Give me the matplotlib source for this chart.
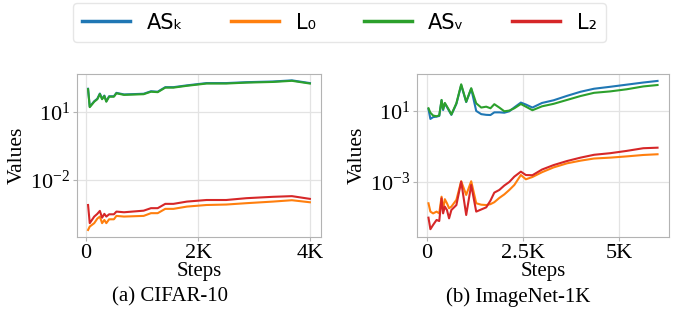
import numpy as np
import matplotlib
matplotlib.use('Agg')
import matplotlib.pyplot as plt
from matplotlib.lines import Line2D

# fontes: serifada nos eixos, sans na legenda
plt.rcParams['font.family'] = 'serif'
plt.rcParams['font.serif'] = ['Liberation Serif', 'DejaVu Serif']
plt.rcParams['mathtext.fontset'] = 'stix'

nomes = ['ASₖ', 'L₀', 'ASᵥ', 'L₂']
cores = ['#1f77b4', '#ff7f0e', '#2ca02c', '#d62728']

# CIFAR-10 (valores em log10)
passos_a = [40, 70, 150, 205, 250, 290, 330, 365, 415, 500, 545, 680, 1030,
            1160, 1280, 1415, 1560, 1800, 2150, 2500, 2860, 3330, 3670, 3990]
ask_a = [2.02, 1.23, 1.47, 1.58, 1.81, 1.58, 1.72, 1.47, 1.69, 1.69, 1.84, 1.77,
         1.80, 1.91, 1.89, 2.09, 2.09, 2.17, 2.27, 2.27, 2.31, 2.34, 2.39, 2.27]
l0_a = [-4.20, -4.05, -3.90, -3.70, -3.61, -3.90, -3.76, -3.90, -3.73, -3.73,
        -3.58, -3.61, -3.58, -3.46, -3.46, -3.27, -3.27, -3.17, -3.10, -3.08,
        -3.02, -2.95, -2.89, -2.98]
asv_a = [2.00, 1.21, 1.45, 1.56, 1.79, 1.56, 1.70, 1.45, 1.67, 1.67, 1.82, 1.75,
         1.78, 1.89, 1.87, 2.07, 2.07, 2.15, 2.25, 2.25, 2.29, 2.32, 2.37, 2.25]
l2_a = [-3.10, -3.90, -3.61, -3.49, -3.36, -3.66, -3.49, -3.61, -3.51, -3.51,
        -3.39, -3.42, -3.35, -3.24, -3.24, -3.05, -3.05, -2.95, -2.88, -2.88,
        -2.80, -2.74, -2.71, -2.83]

# ImageNet-1K (valores em log10)
passos_b = [50, 100, 170, 260, 330, 390, 430, 475, 530, 585, 645, 775, 900,
            1030, 1160, 1290, 1420, 1550, 1660, 1760, 1890, 2020, 2150, 2280,
            2450, 2580, 2750, 3000, 3300, 3650, 4000, 4350, 4770, 5200, 5630, 6000]
ask_b = [1.10, 0.55, 0.65, 0.68, 0.72, 1.60, 1.05, 1.42, 1.22, 1.00, 0.78, 1.40,
         2.45, 1.50, 2.25, 1.00, 0.82, 0.78, 0.77, 0.92, 0.92, 0.90, 0.98, 1.20,
         1.47, 1.36, 1.19, 1.45, 1.60, 1.85, 2.08, 2.25, 2.36, 2.48, 2.60, 2.69]
l0_b = [-4.20, -4.67, -4.77, -4.67, -4.77, -3.83, -4.58, -3.97, -4.20, -4.48,
        -4.39, -4.01, -2.96, -3.73, -2.96, -4.20, -4.28, -4.30, -4.25, -4.14,
        -3.90, -3.70, -3.45, -3.17, -2.61, -2.85, -2.72, -2.45, -2.18, -1.95,
        -1.80, -1.68, -1.63, -1.56, -1.48, -1.44]
asv_b = [1.15, 0.90, 0.74, 0.70, 0.75, 1.62, 1.10, 1.45, 1.25, 1.05, 0.80, 1.43,
         2.50, 1.52, 2.28, 1.43, 1.19, 1.24, 1.15, 1.38, 1.19, 0.98, 1.02, 1.15,
         1.39, 1.24, 1.04, 1.26, 1.40, 1.62, 1.84, 2.02, 2.10, 2.22, 2.38, 2.46]
l2_b = [-5.01, -5.66, -5.42, -5.14, -5.20, -3.92, -4.77, -4.39, -4.58, -5.05,
        -4.58, -4.30, -2.98, -4.86, -3.17, -4.67, -4.55, -4.43, -4.05, -3.60,
        -3.45, -3.20, -3.00, -2.70, -2.42, -2.61, -2.62, -2.30, -2.05, -1.82,
        -1.63, -1.47, -1.38, -1.25, -1.10, -1.07]

paineis = [
    (passos_a, [ask_a, l0_a, asv_a, l2_a], [1e-2, 1e1], (10**-4.51, 10**2.67),
     [0, 2000, 4000], ['0', '2K', '4K'], '(a) CIFAR-10'),
    (passos_b, [ask_b, l0_b, asv_b, l2_b], [1e-3, 1e1], (10**-6.1, 10**3.08),
     [0, 2500, 5000], ['0', '2.5K', '5K'], '(b) ImageNet-1K'),
]

fig, eixos = plt.subplots(1, 2, figsize=(6.86, 3.24), dpi=100)
# posição de cada painel em fração da figura
caixas = [[0.1122, 0.2685, 0.3557, 0.5031], [0.6079, 0.2685, 0.3673, 0.5031]]
posicoes_titulo = [0.248, 0.755]

for ax, (passos, series, yt, ylim, xt, xl, titulo), caixa, xc in zip(eixos, paineis, caixas, posicoes_titulo):
    ax.set_position(caixa)
    for s, cor in zip(series, cores):
        ax.plot(passos, 10 ** np.array(s), color=cor, lw=1.5)
    ax.set_yscale('log')
    ax.set_yticks(yt)
    ax.minorticks_off()
    ax.set_ylim(*ylim)
    ax.set_xticks(xt)
    ax.set_xticklabels(xl)
    ax.grid(True, color='#e3e3e3', lw=0.9)
    ax.set_axisbelow(True)
    for sp in ax.spines.values():
        sp.set_color('#b3b3b3')
    ax.tick_params(labelsize=16, length=3, color='#b3b3b3', pad=2)
    ax.set_xlabel('Steps', fontsize=15, labelpad=-1)
    ax.set_ylabel('Values', fontsize=15.5, labelpad=2)
    fig.text(xc, 0.083, titulo, ha='center', va='center', fontsize=15)

# legenda única no topo
alcas = [Line2D([], [], color=c, lw=2.5) for c in cores]
fig.legend(alcas, nomes, loc='upper center', bbox_to_anchor=(0.495, 1.022), ncol=4,
           prop={'family': 'DejaVu Sans', 'size': 15}, handlelength=2.3,
           handletextpad=0.8, columnspacing=2.3, frameon=True, edgecolor='#e0e0e0',
           borderpad=0.45)

plt.savefig('out.png', dpi=100)
